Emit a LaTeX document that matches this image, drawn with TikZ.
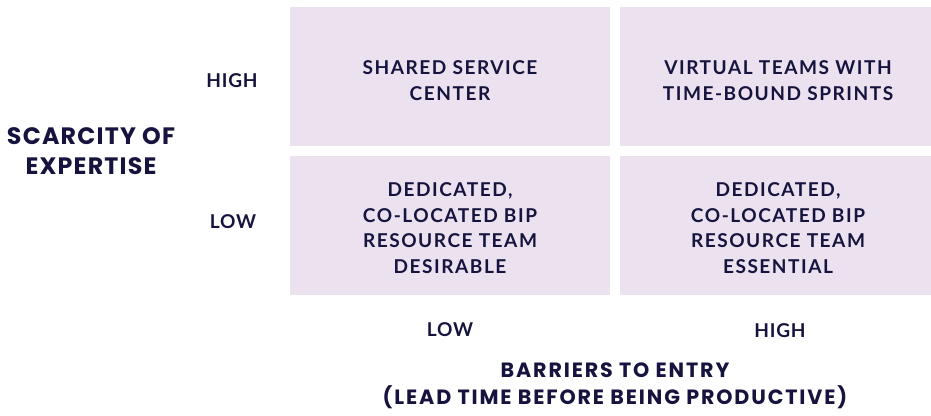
\documentclass[tikz,border=0pt]{standalone}
\usepackage{fontspec}
\setmainfont{Lato}
\newfontfamily\xtitlefont{Poppins}[UprightFont=* Bold, LetterSpace=9]
\newfontfamily\ytitlefont{Poppins}[UprightFont=* Bold, LetterSpace=5]
\newfontfamily\boxfont{Lato}[UprightFont=* Bold, LetterSpace=8]
\newfontfamily\tickfont{Lato}[UprightFont=* Bold, LetterSpace=4]
\definecolor{cellfill}{RGB}{235,225,239}
\definecolor{ink}{RGB}{22,20,62}
\begin{document}
\begin{tikzpicture}[x=0.75pt,y=-0.75pt,
  cell/.style={fill=cellfill,draw=none},
  celltext/.style={text=ink,align=center,font=\boxfont\fontsize{14.3}{19.3}\selectfont},
  ticklabel/.style={text=ink,font=\tickfont\fontsize{14.3}{19.3}\selectfont},
  xtitle/.style={text=ink,align=center,font=\xtitlefont\fontsize{15.5}{20.3}\selectfont},
  ytitle/.style={text=ink,align=center,font=\ytitlefont\fontsize{17.8}{22.5}\selectfont}]
\useasboundingbox (0,0) rectangle (931,416);
% cells
\path[cell] (290,7) rectangle (610,146);
\path[cell] (620,7) rectangle (936,146);
\path[cell] (290,156) rectangle (610,295);
\path[cell] (620,156) rectangle (936,295);
\node[celltext] (tl) at (450,80.5) {SHARED SERVICE\\CENTER};
\node[celltext] (tr) at (778,80.5) {VIRTUAL TEAMS WITH\\TIME-BOUND SPRINTS};
\node[celltext] (bl) at (450,228) {DEDICATED,\\CO-LOCATED BIP\\RESOURCE TEAM\\DESIRABLE};
\node[celltext] (br) at (778,228) {DEDICATED,\\CO-LOCATED BIP\\RESOURCE TEAM\\ESSENTIAL};
% y axis
\node[ticklabel] (yhigh) at (232,81) {HIGH};
\node[ticklabel] (ylow) at (233,222) {LOW};
\node[ytitle] (ytitle) at (91,151.5) {SCARCITY OF\\EXPERTISE};
% x axis
\node[ticklabel] (xlow) at (450,329.5) {LOW};
\node[ticklabel] (xhigh) at (780,330.5) {HIGH};
\node[xtitle] (xtitle) at (615,386) {BARRIERS TO ENTRY\\(LEAD TIME BEFORE BEING PRODUCTIVE)};
\end{tikzpicture}
\end{document}
